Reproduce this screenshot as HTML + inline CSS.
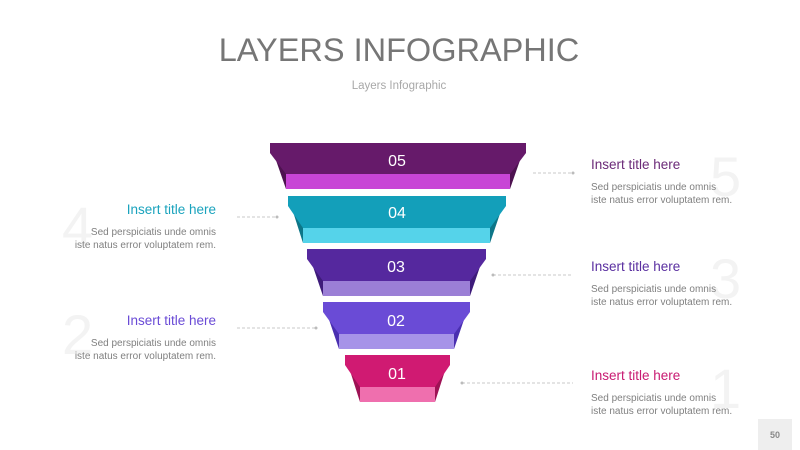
<!DOCTYPE html>
<html><head><meta charset="utf-8"><style>
body{margin:0;background:#fff;}
svg{display:block;font-family:"Liberation Sans",sans-serif;}
</style></head><body>
<svg width="800" height="450" viewBox="0 0 800 450">
<text x="399" y="61" text-anchor="middle" font-size="32.5" fill="#767676">LAYERS INFOGRAPHIC</text>
<text x="399" y="89" text-anchor="middle" font-size="11.5" fill="#a8a8a8">Layers Infographic</text>

<g font-size="56" fill="#f3f3f3">
<text x="710" y="196">5</text>
<text x="62" y="246">4</text>
<text x="710" y="298">3</text>
<text x="62" y="354">2</text>
<text x="710" y="408">1</text>
</g>

<polygon points="270,143 526,143 510,189 286,189" fill="#4d1250"/>
<polygon points="270,143 526,143 526,153 510,174 286,174 270,153" fill="#661a6a"/>
<rect x="286" y="174" width="224" height="15" fill="#c845d6"/>
<text x="397" y="166" text-anchor="middle" font-size="16" fill="#fff">05</text>

<polygon points="288,196 506,196 490,243 303,243" fill="#0d7688"/>
<polygon points="288,196 506,196 506,206 490,228 303,228 288,206" fill="#139fba"/>
<rect x="303" y="228" width="187" height="15" fill="#55d3ea"/>
<text x="397" y="218" text-anchor="middle" font-size="16" fill="#fff">04</text>

<polygon points="307,249 486,249 470,296 323,296" fill="#3e1b7a"/>
<polygon points="307,249 486,249 486,259 470,281 323,281 307,259" fill="#55289e"/>
<rect x="323" y="281" width="147" height="15" fill="#9b7fd6"/>
<text x="396" y="272" text-anchor="middle" font-size="16" fill="#fff">03</text>

<polygon points="323,302 470,302 454,349 339,349" fill="#4a2fb0"/>
<polygon points="323,302 470,302 470,312 454,334 339,334 323,312" fill="#6a4bd6"/>
<rect x="339" y="334" width="115" height="15" fill="#a693e8"/>
<text x="396" y="326" text-anchor="middle" font-size="16" fill="#fff">02</text>

<polygon points="345,355 450,355 435,402 360,402" fill="#9e1255"/>
<polygon points="345,355 450,355 450,365 435,387 360,387 345,365" fill="#d01a72"/>
<rect x="360" y="387" width="75" height="15" fill="#ef6fae"/>
<text x="397" y="379" text-anchor="middle" font-size="16" fill="#fff">01</text>

<g stroke="#c8c8c8" stroke-width="1" stroke-dasharray="3,2" fill="none">
<line x1="533" y1="173" x2="573" y2="173"/>
<line x1="237" y1="217" x2="277" y2="217"/>
<line x1="493" y1="275" x2="573" y2="275"/>
<line x1="237" y1="328" x2="316" y2="328"/>
<line x1="462" y1="383" x2="573" y2="383"/>
</g>
<g fill="#bbb">
<circle cx="573" cy="173" r="1.5"/><circle cx="277" cy="217" r="1.5"/>
<circle cx="493" cy="275" r="1.5"/><circle cx="316" cy="328" r="1.5"/>
<circle cx="462" cy="383" r="1.5"/>
</g>

<g font-size="13.5">
<text x="591" y="169" fill="#6b2a78">Insert title here</text>
<text x="216" y="214" text-anchor="end" fill="#1aa3bd">Insert title here</text>
<text x="591" y="271" fill="#5a2fa0">Insert title here</text>
<text x="216" y="325" text-anchor="end" fill="#6a4bd6">Insert title here</text>
<text x="591" y="380" fill="#c81a72">Insert title here</text>
</g>
<g font-size="10" fill="#808080">
<text x="591" y="190">Sed perspiciatis unde omnis</text>
<text x="591" y="203">iste natus error voluptatem rem.</text>
<text x="216" y="235" text-anchor="end">Sed perspiciatis unde omnis</text>
<text x="216" y="248" text-anchor="end">iste natus error voluptatem rem.</text>
<text x="591" y="292">Sed perspiciatis unde omnis</text>
<text x="591" y="305">iste natus error voluptatem rem.</text>
<text x="216" y="346" text-anchor="end">Sed perspiciatis unde omnis</text>
<text x="216" y="359" text-anchor="end">iste natus error voluptatem rem.</text>
<text x="591" y="401">Sed perspiciatis unde omnis</text>
<text x="591" y="414">iste natus error voluptatem rem.</text>
</g>

<rect x="758" y="419" width="34" height="31" fill="#eeeeee"/>
<text x="775" y="438" text-anchor="middle" font-size="9" font-weight="bold" fill="#888">50</text>
</svg>
</body></html>
